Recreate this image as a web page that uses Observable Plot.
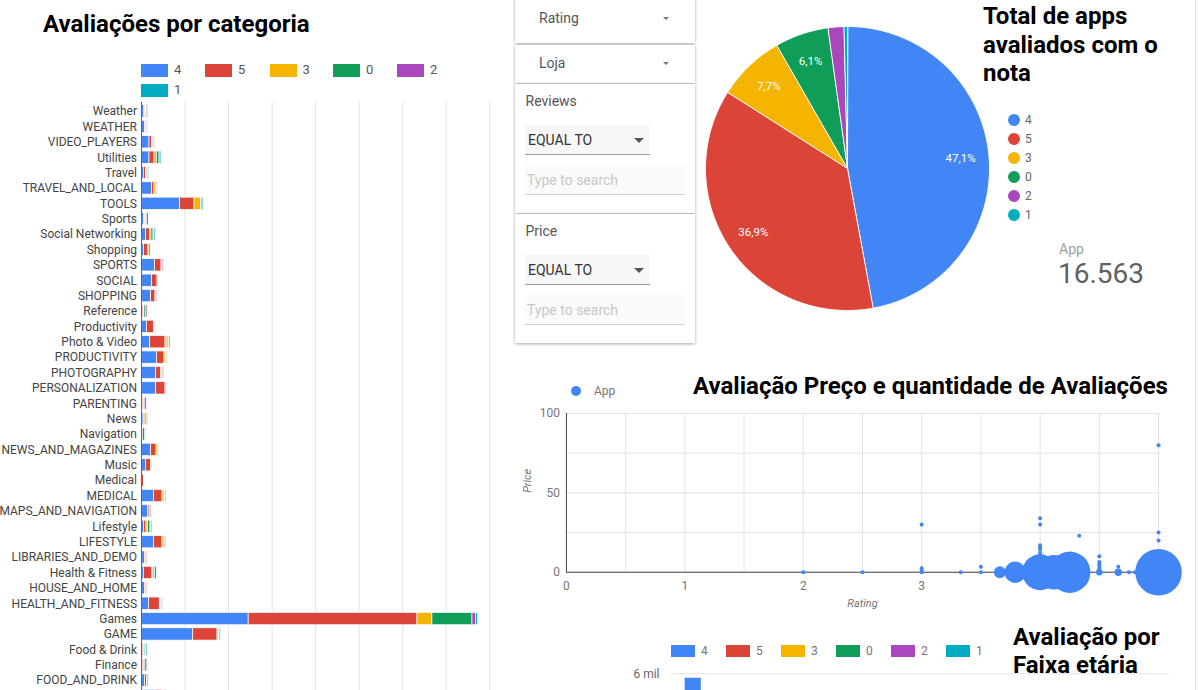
<!DOCTYPE html>
<html><head><meta charset="utf-8">
<script src="https://cdn.jsdelivr.net/npm/d3@7"></script>
<script src="https://cdn.jsdelivr.net/npm/@observablehq/plot@0.6"></script>
<style>
html,body{margin:0;padding:0;background:#fff;overflow:hidden;}
#root{position:relative;width:1199px;height:690px;overflow:hidden;font-family:Roboto,sans-serif;}
.abs{position:absolute;white-space:nowrap;}
.title{font-weight:700;font-size:24px;color:#000;line-height:28.7px;}
.box{position:absolute;background:#fff;box-shadow:0 1px 3px rgba(0,0,0,0.35);}
.lbl{position:absolute;font-size:14px;color:#555;line-height:18px;}
.sel{position:absolute;background:#f7f7f7;border-bottom:1px solid #9e9e9e;}
.sel span{position:absolute;left:3px;top:6px;font-size:14px;color:#333;line-height:18px;}
.sel i{position:absolute;right:6px;top:13px;width:0;height:0;border-left:5px solid transparent;border-right:5px solid transparent;border-top:5px solid #555;}
.inp{position:absolute;background:#fafafa;border-bottom:1px solid #d0d0d0;}
.inp span{position:absolute;left:2px;top:6px;font-size:14px;color:#c8c8c8;line-height:18px;}
.caret{position:absolute;width:0;height:0;border-left:3.5px solid transparent;border-right:3.5px solid transparent;border-top:3.5px solid #777;}
.sw{position:absolute;}
.lg{position:absolute;font-size:13px;color:#555;line-height:16px;}
</style></head><body>
<div id="root"></div>
<script>
// ---------------- DATA ----------------
const series = ["4", "5", "3", "0", "2", "1"];
const seriesColors = ["#4285f4", "#db4437", "#f4b400", "#0f9d58", "#ab47bc", "#00acc1"];

const categories = ["Weather","WEATHER","VIDEO_PLAYERS","Utilities","Travel","TRAVEL_AND_LOCAL","TOOLS","Sports","Social Networking","Shopping","SPORTS","SOCIAL","SHOPPING","Reference","Productivity","Photo & Video","PRODUCTIVITY","PHOTOGRAPHY","PERSONALIZATION","PARENTING","News","Navigation","NEWS_AND_MAGAZINES","Music","Medical","MEDICAL","MAPS_AND_NAVIGATION","Lifestyle","LIFESTYLE","LIBRARIES_AND_DEMO","Health & Fitness","HOUSE_AND_HOME","HEALTH_AND_FITNESS","Games","GAME","Food & Drink","Finance","FOOD_AND_DRINK","FINANCE"];
const cat4 = [27,42,92,92,27,122,444,30,54,30,157,122,111,14,62,100,180,169,169,16,24,8,111,54,6,146,77,27,146,42,30,42,88,1231,594,14,14,42,169];
const cat5 = [12,12,27,58,27,27,165,12,42,50,73,62,50,14,84,176,84,58,107,16,10,8,62,58,22,96,16,30,96,14,96,14,122,1938,279,14,12,23,81];
const cat3 = [10,12,10,27,8,24,73,10,19,12,10,14,10,6,8,23,17,14,10,6,14,0,15,12,0,23,14,19,23,12,10,12,14,172,17,10,12,6,10];
const cat0 = [8,0,4,30,16,4,6,12,23,15,4,0,4,22,4,12,6,4,0,0,14,24,4,4,4,5,0,27,5,0,14,0,4,460,6,14,22,0,6];
const cat2 = [12,6,14,12,0,8,14,20,6,0,12,8,10,14,10,6,6,14,6,22,14,0,8,6,0,6,12,6,15,4,6,4,10,43,12,0,14,12,10];
const cat1 = [6,0,4,12,10,4,12,6,16,0,4,0,0,0,4,15,10,0,0,0,0,10,0,0,0,10,0,15,4,0,20,0,10,23,6,16,0,0,10];
const catTicks = [0,500,1000,1500,2000,2500,3000,3500,4000];

const pieKeys = ["4", "5", "3", "0", "2", "1"];
const pieCounts = [7801, 6112, 1275, 1010, 298, 67];
const appTotal = "16.563";

const scRating = [2,2.5,3,3,3,3,3.33,3.5,3.5,3.66,3.79,4,4,4,4,4,4,4,4.12,4.25,4.33,4.5,4.5,4.5,4.5,4.5,4.5,4.66,4.66,4.75,4.8,5,5,5,5];
const scPrice  = [0,0,0,1,2.5,30,0,0,3.5,0,0,0,12,14,15.5,17,30,34,0,0,23,0,2,3.5,5,6.5,10,0,3.5,0,0,0,20,25,80];
const scReviews= [15,15,15,15,15,15,15,15,15,130,420,1190,15,15,15,15,15,15,1100,1580,15,40,15,15,15,15,15,50,15,15,15,2000,15,15,15];
const scXTicks = [0,1,2,3,4,5];
const scXGrid = [0,0.5,1,1.5,2,2.5,3,3.5,4,4.5,5];
const scYTicks = [0,50,100];
const scYGrid = [0,25,50,75,100];

const ageGroups = ["Everyone", "Teen", "Mature 17+", "Everyone 10+"];
const age4 = [5830, 1100, 450, 420];
const age5 = [4450, 900, 420, 340];
const age3 = [900, 200, 100, 75];
const age0 = [780, 120, 60, 50];
const age2 = [210, 50, 22, 16];
const age1 = [45, 12, 6, 4];
const ageGrid = [2000, 4000, 6000];
const ageTickLabels = [6000]; // only tick inside the visible window

// ---------------- HELPERS ----------------
const root = document.getElementById("root");
function el(html) { const d = document.createElement("div"); d.innerHTML = html; const n = d.firstElementChild; root.appendChild(n); return n; }
function place(node, left, top) { const w = document.createElement("div"); w.className = "abs"; w.style.left = left + "px"; w.style.top = top + "px"; w.appendChild(node); root.appendChild(w); }
const baseStyle = {fontFamily: "Roboto, sans-serif", background: "transparent", overflow: "visible"};

// ---------------- LEFT: stacked bars ----------------
const catCols = {"4": cat4, "5": cat5, "3": cat3, "0": cat0, "2": cat2, "1": cat1};
const catData = [];
categories.forEach((c, i) => series.forEach(s => catData.push({cat: c, rating: s, value: catCols[s][i]})));

const barChart = Plot.plot({
  width: 500, height: 735,
  marginLeft: 141, marginRight: 10.7, marginTop: 101.8, marginBottom: 30.3,
  style: {...baseStyle, fontSize: "12px", color: "#444"},
  x: {domain: [0, 4000], axis: null},
  y: {domain: categories, padding: 0.2, round: false, axis: null},
  color: {domain: series, range: seriesColors},
  marks: [
    Plot.gridX(catTicks.slice(1), {stroke: "#e3e3e3", strokeOpacity: 1, strokeWidth: 1}),
    Plot.barX(catData, {x: "value", y: "cat", fill: "rating", order: series, stroke: "white", strokeWidth: 0.7}),
    Plot.ruleX([0], {stroke: "#666", strokeWidth: 1}),
    // the last category sits below the visible window, its label is not shown
    Plot.axisY({ticks: categories.slice(0, -1), tickSize: 0, tickPadding: 4.5, label: null})
  ]
});
place(barChart, 0, 0);

el(`<div class="abs title" style="left:43px;top:10px">Avaliações por categoria</div>`);
const legPos = [[141,63.5],[205,63.5],[269.5,63.5],[333,63.5],[397,63.5],[141,83.5]];
series.forEach((s, i) => {
  const [x, y] = legPos[i];
  el(`<div class="sw" style="left:${x}px;top:${y}px;width:27px;height:13px;background:${seriesColors[i]}"></div>`);
  el(`<div class="lg" style="left:${x + 33}px;top:${y - 1.5}px">${s}</div>`);
});

// ---------------- FILTER PANEL ----------------
el(`<div class="box" style="left:515px;top:-6px;width:180px;height:48.5px"></div>`);
el(`<div class="lbl" style="left:539px;top:9px">Rating</div>`);
el(`<div class="caret" style="left:663px;top:17px"></div>`);
el(`<div class="box" style="left:515px;top:45px;width:180px;height:37.5px"></div>`);
el(`<div class="lbl" style="left:539px;top:54px">Loja</div>`);
el(`<div class="caret" style="left:663px;top:62px"></div>`);
[[84, "Reviews"], [214, "Price"]].forEach(([t, name]) => {
  el(`<div class="box" style="left:515px;top:${t}px;width:180px;height:128.5px"></div>`);
  el(`<div class="lbl" style="left:525.5px;top:${t + 8}px">${name}</div>`);
  el(`<div class="sel" style="left:525px;top:${t + 41}px;width:125px;height:29px"><span>EQUAL TO</span><i></i></div>`);
  el(`<div class="inp" style="left:525px;top:${t + 81}px;width:160px;height:29px"><span>Type to search</span></div>`);
});

// ---------------- PIE ----------------
const pieTotal = d3.sum(pieCounts);
const piePts = [];
const pieLabels = [];
let acc = 0;
pieKeys.forEach((k, i) => {
  const a0 = acc / pieTotal * 2 * Math.PI;
  acc += pieCounts[i];
  const a1 = acc / pieTotal * 2 * Math.PI;
  piePts.push({k, x: 0, y: 0});
  const n = Math.max(2, Math.ceil((a1 - a0) / 0.01));
  for (let j = 0; j <= n; j++) {
    const a = a0 + (a1 - a0) * j / n;
    piePts.push({k, x: Math.sin(a), y: Math.cos(a)});
  }
  const frac = pieCounts[i] / pieTotal;
  if (frac > 0.05) {
    const am = (a0 + a1) / 2;
    pieLabels.push({x: 0.8 * Math.sin(am), y: 0.8 * Math.cos(am), t: (frac * 100).toFixed(1).replace(".", ",") + "%"});
  }
});
const pie = Plot.plot({
  width: 300, height: 300, margin: 8,
  style: {...baseStyle},
  x: {domain: [-1, 1], axis: null},
  y: {domain: [-1, 1], axis: null},
  color: {domain: series, range: seriesColors},
  marks: [
    Plot.line(piePts, {x: "x", y: "y", z: "k", fill: "k", stroke: "white", strokeWidth: 1, curve: "linear-closed"}),
    Plot.text(pieLabels, {x: "x", y: "y", text: "t", fill: "white", fontSize: 11.5})
  ]
});
place(pie, 696.7, 17.7);

el(`<div class="abs title" style="left:983px;top:1.8px">Total de apps<br>avaliados com o<br>nota</div>`);
pieKeys.forEach((k, i) => {
  const cy = 119.7 + 19 * i;
  el(`<div class="sw" style="left:1008px;top:${cy - 6}px;width:12px;height:12px;border-radius:6px;background:${seriesColors[series.indexOf(k)]}"></div>`);
  el(`<div class="abs" style="left:1025px;top:${cy - 8}px;font-size:12px;line-height:16px;color:#666">${k}</div>`);
});
el(`<div class="abs" style="left:1059px;top:241px;font-size:14px;line-height:17px;color:#9e9e9e">App</div>`);
el(`<div class="abs" style="left:1058px;top:259.5px;font-size:28px;line-height:28px;color:#616161">${appTotal}</div>`);

// ---------------- SCATTER ----------------
const scData = scRating.map((r, i) => ({rating: r, price: scPrice[i], reviews: scReviews[i]}));
const scatter = Plot.plot({
  width: 690, height: 220,
  marginLeft: 56, marginRight: 41, marginTop: 13, marginBottom: 48,
  style: {...baseStyle, fontSize: "12px", color: "#757575"},
  x: {domain: [0, 5], axis: null},
  y: {domain: [0, 100], axis: null},
  r: {type: "sqrt", domain: [0, 2000], range: [0, 23.3]},
  marks: [
    Plot.gridX(scXGrid, {stroke: "#e3e3e3", strokeOpacity: 1}),
    Plot.gridY(scYGrid, {stroke: "#e3e3e3", strokeOpacity: 1}),
    Plot.ruleY([0], {stroke: "#444"}),
    Plot.ruleX([0], {stroke: "#444"}),
    Plot.axisX({ticks: scXTicks, tickFormat: d => String(d), tickSize: 0, tickPadding: 9, label: null}),
    Plot.axisY({ticks: scYTicks, tickFormat: d => String(d), tickSize: 0, tickPadding: 6.4, label: null}),
    Plot.dot(scData, {x: "rating", y: "price", r: "reviews", fill: "#4285f4", stroke: null, sort: {channel: "r", order: "descending"}}),
    Plot.text(["Rating"], {frameAnchor: "bottom", dy: 35, fontStyle: "italic", fontSize: 11, fill: "#757575"}),
    Plot.text(["Price"], {frameAnchor: "left", dx: -39, rotate: -90, fontStyle: "italic", fontSize: 11, fill: "#757575"})
  ]
});
place(scatter, 510, 400);
el(`<div class="sw" style="left:571px;top:386px;width:10px;height:10px;border-radius:5px;background:#4285f4"></div>`);
el(`<div class="abs" style="left:594px;top:383px;font-size:12px;line-height:16px;color:#757575">App</div>`);
el(`<div class="abs title" style="left:693px;top:371.5px">Avaliação Preço e quantidade de Avaliações</div>`);

// ---------------- BOTTOM: age groups ----------------
const ageCols = {"4": age4, "5": age5, "3": age3, "0": age0, "2": age2, "1": age1};
const ageData = [];
ageGroups.forEach((g, i) => series.forEach(s => ageData.push({age: g, rating: s, value: ageCols[s][i]})));
const bDims = {width: 599, height: 200, marginLeft: 70.7, marginRight: 30, marginTop: 13.3, marginBottom: 30};
const bottomGrid = Plot.plot({
  ...bDims,
  style: {...baseStyle, fontSize: "12px", color: "#666"},
  y: {domain: [0, 6000], axis: null},
  marks: [
    Plot.gridY(ageGrid, {stroke: "#e3e3e3", strokeOpacity: 1}),
    Plot.axisY({ticks: ageTickLabels, tickFormat: d => (d / 1000) + " mil", tickSize: 0, tickPadding: 11.7, label: null})
  ]
});
const bottomBars = Plot.plot({
  ...bDims,
  style: {...baseStyle},
  fx: {domain: ageGroups, paddingInner: 0.1, paddingOuter: 0.1, round: false, axis: null, label: null},
  x: {domain: series, padding: 0.1, round: false, axis: null},
  y: {domain: [0, 6000], axis: null},
  color: {domain: series, range: seriesColors},
  marks: [
    Plot.barY(ageData, {fx: "age", x: "rating", y: "value", fill: "rating"})
  ]
});
place(bottomGrid, 600, 660);
place(bottomBars, 600, 660);
const bLeg = [671, 726, 781, 836, 891, 946];
series.forEach((s, i) => {
  el(`<div class="sw" style="left:${bLeg[i]}px;top:645px;width:24px;height:12px;background:${seriesColors[i]}"></div>`);
  el(`<div class="abs" style="left:${bLeg[i] + 30}px;top:643px;font-size:12px;line-height:16px;color:#757575">${s}</div>`);
});
el(`<div class="abs title" style="left:1013px;top:622.5px">Avaliação por<br>Faixa etária</div>`);

// right card border
el(`<div class="abs" style="left:1195px;top:0;width:1px;height:690px;background:#e0e0e0"></div>`);
</script>
</body></html>
